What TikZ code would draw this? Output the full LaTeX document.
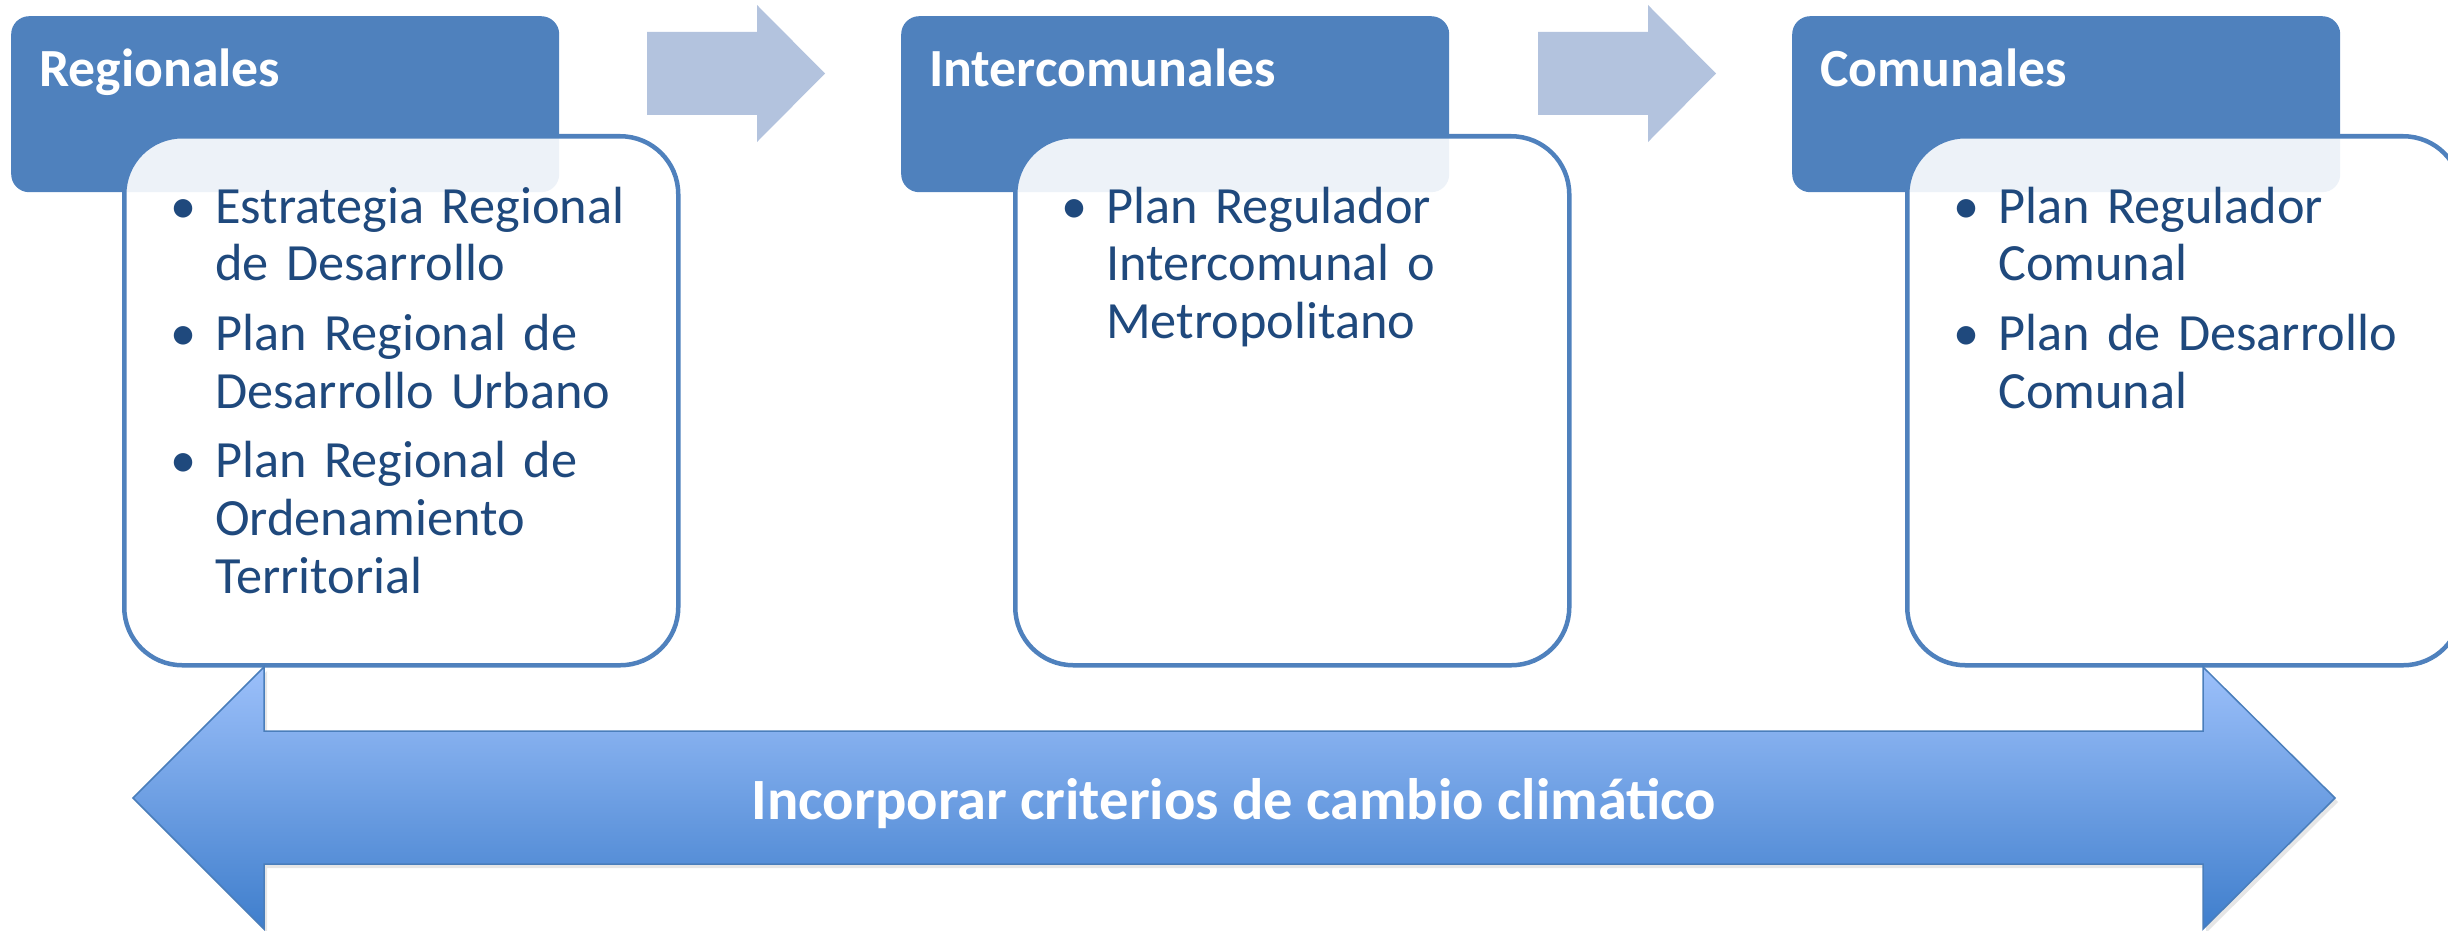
\documentclass[tikz,border=0pt]{standalone}
\usepackage{fontspec}
\setmainfont{Carlito}
\usetikzlibrary{shadows}
\definecolor{hdrblue}{HTML}{4F81BD}
\definecolor{textblue}{HTML}{1F497D}
\definecolor{stepgray}{HTML}{B3C3DE}
\definecolor{arrowtop}{HTML}{9CC0FA}
\definecolor{arrowbot}{HTML}{3F7ECC}
\definecolor{arrowline}{HTML}{4A7EBB}
\newcommand{\planitem}[1]{\hangindent=45pt\hangafter=1\makebox[45pt][l]{\textbullet}#1\par\vspace{12pt}}

\tikzset{
  levelhead/.style={fill=hdrblue, rounded corners=18pt, minimum width=548pt,
    minimum height=176pt, inner sep=0pt, anchor=north west},
  levelbox/.style={draw=hdrblue, line width=4.5pt, fill=white, fill opacity=0.9,
    rounded corners=58pt, minimum width=554pt, minimum height=529pt,
    inner sep=0pt, anchor=north west},
  headtext/.style={text=white, font=\bfseries\fontsize{53.7}{64}\selectfont,
    inner sep=0pt, anchor=base west},
  itemtext/.style={text=textblue, font=\fontsize{52.3}{57.7}\selectfont,
    text width=500pt, align=left, inner sep=0pt, anchor=base west},
  steparrow/.style={fill=stepgray},
  bigarrow/.style={draw=arrowline, line width=1.5pt, top color=arrowtop,
    bottom color=arrowbot,
    drop shadow={opacity=0.2, shadow xshift=3pt, shadow yshift=-4pt}},
  bigtext/.style={text=white, font=\bfseries\fontsize{58.5}{70}\selectfont,
    inner sep=0pt, anchor=base}
}

\begin{document}
\begin{tikzpicture}[x=1pt,y=-1pt]
\useasboundingbox (0,0) rectangle (2448,931);

\node[levelhead] (reg) at (11,16) {};
\node[levelhead] (inter) at (901,16) {};
\node[levelhead] (com) at (1792,16) {};

\node[levelbox] (reg-box) at (122,134) {};
\node[levelbox] (inter-box) at (1013,134) {};
\node[levelbox] (com-box) at (1905,134) {};

\node[headtext] (reg-t) at (39,87) {Regionales};
\node[headtext] (inter-t) at (929,87) {Intercomunales};
\node[headtext] (com-t) at (1820,87) {Comunales};

\node[itemtext] (reg-list) at (170,223)
     {\planitem{Estrategia Regional\newline de Desarrollo}%
      \planitem{Plan Regional de\newline Desarrollo Urbano}%
      \planitem{Plan Regional de\newline Ordenamiento\newline Territorial}};
\node[itemtext] (inter-list) at (1061,223)
     {\planitem{Plan Regulador\newline Intercomunal o\newline Metropolitano}};
\node[itemtext] (com-list) at (1953,223)
     {\planitem{Plan Regulador\newline Comunal}%
      \planitem{Plan de Desarrollo\newline Comunal}};

% arrows between the levels
\fill[steparrow] (647,32) -- (757,32) -- (757,5) -- (825,73.5) -- (757,142)
     -- (757,115) -- (647,115) -- cycle;
\fill[steparrow] (1538,32) -- (1648,32) -- (1648,5) -- (1716,73.5) -- (1648,142)
     -- (1648,115) -- (1538,115) -- cycle;

% common goal
\path[bigarrow] (133,798) -- (264,667) -- (264,731) -- (2203,731) -- (2203,667)
     -- (2335,798) -- (2203,929) -- (2203,864) -- (264,864) -- (264,929) -- cycle;
\node[bigtext] (clima) at (1234,819) {Incorporar criterios de cambio climático};
\end{tikzpicture}
\end{document}
